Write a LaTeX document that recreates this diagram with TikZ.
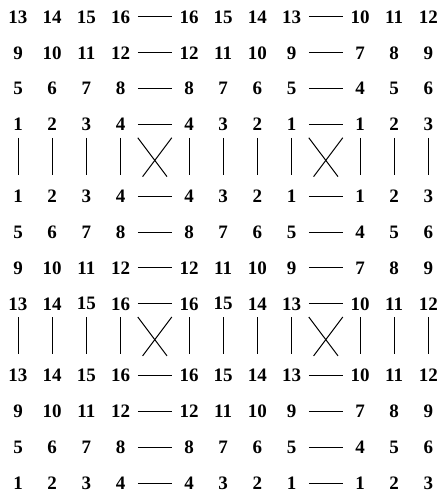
\documentclass[tikz,border=0pt]{standalone}
\usepackage{fontspec}
\usepackage{tikz}
\usetikzlibrary{positioning}
\setmainfont{Liberation Serif}

\begin{document}
\begin{tikzpicture}[
        x=1pt, y=-1pt,
        num/.style={minimum width=34pt, minimum height=26pt, inner sep=0pt, font=\bfseries\fontsize{19}{19}\selectfont},
        link/.style={line width=1pt, draw=black}
    ]
    \useasboundingbox (0,0) rectangle (438,495);

    % The number rows (grid row, then the eleven numbers)
    \foreach \k/\vals in {
        0/{13,14,15,16,16,15,14,13,10,11,12},
        1/{9,10,11,12,12,11,10,9,7,8,9},
        2/{5,6,7,8,8,7,6,5,4,5,6},
        3/{1,2,3,4,4,3,2,1,1,2,3},
        5/{1,2,3,4,4,3,2,1,1,2,3},
        6/{5,6,7,8,8,7,6,5,4,5,6},
        7/{9,10,11,12,12,11,10,9,7,8,9},
        8/{13,14,15,16,16,15,14,13,10,11,12},
        10/{13,14,15,16,16,15,14,13,10,11,12},
        11/{9,10,11,12,12,11,10,9,7,8,9},
        12/{5,6,7,8,8,7,6,5,4,5,6},
        13/{1,2,3,4,4,3,2,1,1,2,3}} {
        \foreach \v [count=\i from 0] in \vals {
            \pgfmathtruncatemacro{\j}{\i+(\i>3)+(\i>7)}
            \node (n\k-\i) [num] at (18+34.2*\j, 17+35.85*\k) {\v};
        }
    }

    % The dashes between the groups
    \foreach \k in {0,1,2,3,5,6,7,8,10,11,12,13} {
        \draw [link] (n\k-3.east) -- (n\k-4.west);
        \draw [link] (n\k-7.east) -- (n\k-8.west);
    }

    % The bars and the crossings
    \foreach \a/\b in {3/5, 8/10} {
        \foreach \i in {0,...,10}
            \draw [link, shorten >=8pt] (n\a-\i.south) -- (n\b-\i.north);
        \draw [link, shorten >=8pt] (n\a-3.south east) -- (n\b-4.north west);
        \draw [link, shorten >=8pt] (n\a-4.south west) -- (n\b-3.north east);
        \draw [link, shorten >=8pt] (n\a-7.south east) -- (n\b-8.north west);
        \draw [link, shorten >=8pt] (n\a-8.south west) -- (n\b-7.north east);
    }

\end{tikzpicture}
\end{document}
